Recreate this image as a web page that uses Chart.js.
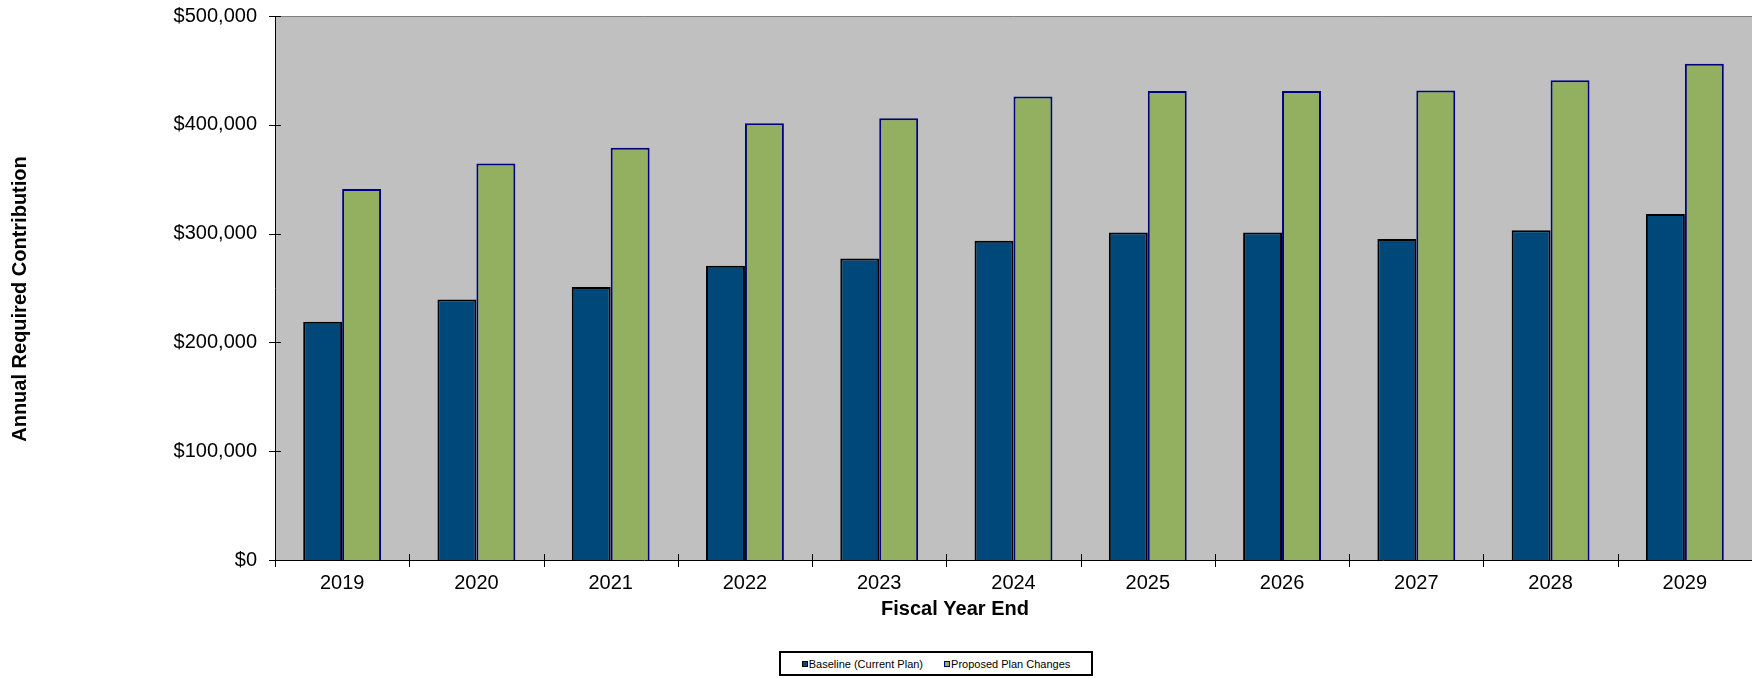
<!DOCTYPE html>
<html>
<head>
<meta charset="utf-8">
<script src="https://cdn.jsdelivr.net/npm/chart.js@4/dist/chart.umd.min.js"></script>
<style>
  html, body { margin: 0; padding: 0; background: #fff; }
  #wrap { position: relative; width: 1752px; height: 678px; }
  #legend {
    position: absolute; left: 779px; top: 651px; width: 310px; height: 21px;
    border: 2px solid #000; background: #fff;
    display: flex; align-items: center; justify-content: center; gap: 21px;
    font: 11px "Liberation Sans", Arial, sans-serif; color: #000;
  }
  #legend .item { display: flex; align-items: center; }
  #legend .box { width: 4px; height: 4px; margin-right: 1px; }
</style>
</head>
<body>
<div id="wrap">
  <canvas id="arcChart" width="1752" height="678"></canvas>
  <div id="legend"></div>
</div>
<script>
const years = ["2019", "2020", "2021", "2022", "2023", "2024", "2025", "2026", "2027", "2028", "2029"];
const baseline = [219000, 239500, 251000, 270500, 277000, 293500, 301000, 301000, 295000, 303000, 318000];
const proposed = [341000, 364500, 379000, 401500, 406000, 426000, 431000, 431000, 431500, 441000, 456000];
const yTicks = [0, 100000, 200000, 300000, 400000, 500000];

const blue = "#00477a";
const green = "#93af60";
const navy = "#000080";
const plotFill = "#c0c0c0";
const font = "'Liberation Sans', Arial, sans-serif";

const frame = {
  id: "frame",
  beforeDraw(chart) {
    const { ctx, chartArea: a } = chart;
    ctx.save();
    ctx.fillStyle = plotFill;
    ctx.fillRect(a.left, a.top, a.right - a.left, a.bottom - a.top);
    ctx.strokeStyle = "#808080";
    ctx.lineWidth = 1;
    ctx.beginPath();
    ctx.moveTo(a.left, a.top + 0.5);
    ctx.lineTo(a.right, a.top + 0.5);
    ctx.stroke();
    ctx.restore();
  },
  afterDraw(chart) {
    const { ctx, chartArea: a, scales } = chart;
    ctx.save();
    ctx.strokeStyle = "#000";
    ctx.lineWidth = 1;
    ctx.beginPath();
    // y ticks crossing the axis
    scales.y.ticks.forEach((t) => {
      const py = Math.round(scales.y.getPixelForValue(t.value)) + 0.5;
      ctx.moveTo(a.left - 6, py);
      ctx.lineTo(a.left + 6, py);
    });
    // x ticks between categories
    for (let i = 0; i <= years.length; i++) {
      const px = Math.round(scales.x.getPixelForValue(i - 0.5)) + 0.5;
      ctx.moveTo(px, a.bottom - 6);
      ctx.lineTo(px, a.bottom + 7);
    }
    ctx.stroke();

    // axis titles
    ctx.fillStyle = "#000";
    ctx.font = "bold 20px " + font;
    ctx.textAlign = "center";
    ctx.textBaseline = "middle";
    ctx.fillText("Fiscal Year End", 955, 609);
    ctx.translate(20, 299);
    ctx.rotate(-Math.PI / 2);
    ctx.fillText("Annual Required Contribution", 0, 0);
    ctx.restore();
  },
};

const chart = new Chart(document.getElementById("arcChart"), {
  type: "bar",
  data: {
    labels: years,
    datasets: [
      { label: "Baseline (Current Plan)", data: baseline, backgroundColor: blue, borderColor: "#000", borderWidth: 2, borderSkipped: "bottom" },
      { label: "Proposed Plan Changes", data: proposed, backgroundColor: green, borderColor: navy, borderWidth: 2, borderSkipped: "bottom" },
    ],
  },
  options: {
    responsive: false,
    animation: false,
    devicePixelRatio: 1,
    layout: { padding: { top: 16, right: 0, left: 0, bottom: 0 } },
    datasets: { bar: { categoryPercentage: 0.58, barPercentage: 1 } },
    plugins: { legend: { display: false }, tooltip: { enabled: false } },
    scales: {
      x: {
        grid: { display: false, drawTicks: false },
        border: { display: true, color: "#000", width: 1 },
        ticks: { color: "#000", font: { family: font, size: 20 }, padding: 11, maxRotation: 0 },
        afterFit: (s) => { s.height = 118; s.paddingLeft = 0; s.paddingRight = 0; },
      },
      y: {
        min: 0,
        max: 500000,
        afterBuildTicks: (s) => { s.ticks = yTicks.map((v) => ({ value: v })); },
        grid: { display: false, drawTicks: false },
        border: { display: true, color: "#000", width: 1 },
        ticks: { color: "#000", font: { family: font, size: 20 }, padding: 18, callback: (v) => "$" + v.toLocaleString("en-US") },
        afterFit: (s) => { s.width = 275; s.paddingTop = 0; s.paddingBottom = 0; },
      },
    },
  },
  plugins: [frame],
});

// legend box built from the datasets
document.getElementById("legend").innerHTML = chart.data.datasets
  .map((d) => `<span class="item"><span class="box" style="background:${d.backgroundColor};border:1.5px solid ${d.borderColor}"></span>${d.label}</span>`)
  .join("");
</script>
</body>
</html>
